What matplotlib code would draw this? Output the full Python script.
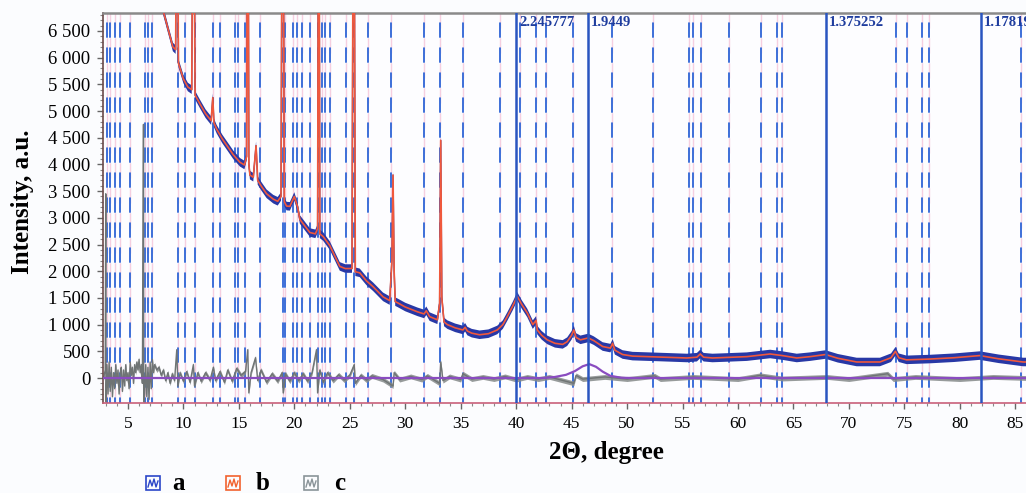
import matplotlib
matplotlib.use("Agg")
import matplotlib.pyplot as plt
from matplotlib.ticker import MultipleLocator, FuncFormatter
from matplotlib.patches import Rectangle
from matplotlib.lines import Line2D

plt.rcParams['lines.scale_dashes'] = False
plt.rcParams['font.family'] = ['Liberation Serif', 'DejaVu Serif']

# ---------------- data ----------------
# observed (a) / calculated (b) pattern, 2theta in degrees
theta_obs = [7.6, 8.2, 8.6, 9.05, 9.3, 9.38, 9.42, 9.46, 9.55, 10.0, 10.4, 10.75, 10.85, 10.9, 10.95,
             11.05, 11.5, 12.0, 12.5, 12.65, 12.75, 13.0, 13.5, 14.0, 14.5, 15.1, 15.5, 15.7, 15.8,
             15.9, 16.0, 16.3, 16.55, 16.7, 17.0, 17.5, 18.1, 18.5, 18.8, 18.95, 19.1, 19.3, 19.6,
             20.0, 20.3, 20.5, 21.4, 21.9, 22.1, 22.2, 22.3, 22.6, 23.2, 24.1, 24.6, 25.2, 25.35,
             25.5, 25.9, 26.5, 27.1, 28.0, 28.6, 28.8, 28.9, 29.0, 29.1, 29.3, 30.0, 31.1, 31.7,
             31.9, 32.2, 32.9, 33.1, 33.2, 33.3, 33.5, 33.8, 34.5, 35.2, 35.4, 35.6, 36.0, 36.7,
             37.5, 38.3, 38.8, 39.2, 39.7, 40.1, 40.5, 41.0, 41.5, 41.8, 41.9, 42.3, 42.8, 43.5,
             44.2, 44.6, 45.0, 45.2, 45.4, 45.8, 46.5, 47.0, 47.8, 48.5, 48.7, 48.9, 49.6, 50.5,
             52.7, 55.4, 56.3, 56.6, 56.9, 57.7, 59.0, 60.8, 62.9, 64.0, 65.3, 66.5, 67.9, 69.0,
             70.7, 72.8, 73.8, 74.2, 74.5, 75.2, 77.3, 79.5, 81.8, 83.5, 85.7, 86.2]
intensity_obs = [7400, 6860, 6550, 6200, 6150, 9000, 12000, 9000, 5900, 5600, 5450, 5400, 9000, 12000, 9000,
                 5300, 5130, 4950, 4820, 5250, 4780, 4660, 4480, 4330, 4180, 4040, 3990, 4150, 12000,
                 4000, 3800, 3760, 4350, 3700, 3600, 3450, 3350, 3310, 3400, 12000, 3300, 3220, 3215,
                 3400, 3200, 2970, 2725, 2700, 2800, 12000, 2700, 2650, 2480, 2090, 2050, 2050, 12000,
                 1990, 1970, 1820, 1710, 1520, 1450, 2200, 3800, 2000, 1430, 1410, 1330, 1240, 1200,
                 1260, 1150, 1090, 1400, 4450, 1500, 1050, 1000, 940, 900, 950, 880, 840, 810,
                 830, 900, 1000, 1150, 1350, 1530, 1380, 1220, 1000, 1080, 900, 800, 715, 650,
                 630, 680, 800, 900, 760, 715, 750, 700, 590, 560, 650, 520, 440, 410,
                 395, 375, 390, 450, 390, 375, 385, 400, 450, 420, 375, 400, 440, 370,
                 300, 300, 380, 500, 380, 340, 355, 380, 420, 360, 300, 300]
noise_obs = 80  # half-width of the noisy observed band, intensity units

# difference curve (c)
theta_diff = [2.8, 2.95, 3.0, 3.02, 3.1, 3.2, 3.3, 3.4, 3.5, 3.6, 3.7, 3.8, 3.9, 4.0, 4.1, 4.2, 4.3, 4.4,
              4.5, 4.6, 4.7, 4.8, 4.9, 5.0, 5.1, 5.2, 5.3, 5.4, 5.5, 5.6, 5.7, 5.8, 5.9, 6.0, 6.1, 6.2,
              6.3, 6.4, 6.42, 6.5, 6.6, 6.7, 6.8, 6.9, 7.0, 7.1, 7.2, 7.3, 7.4, 7.6, 7.8, 8.0, 8.2,
              8.4, 8.6, 8.8, 9.0, 9.2, 9.4, 9.5, 9.7, 10.0, 10.3, 10.6, 10.9, 11.0, 11.3, 11.6, 12.0,
              12.4, 12.7, 12.9, 13.3, 13.7, 14.0, 14.4, 14.8, 15.2, 15.6, 15.8, 15.9, 16.1, 16.5,
              16.7, 17.0, 17.5, 18.0, 18.5, 18.9, 19.0, 19.2, 19.6, 20.0, 20.4, 20.8, 21.2, 21.6,
              22.0, 22.1, 22.3, 22.6, 23.0, 23.5, 24.0, 24.5, 25.0, 25.4, 25.5, 26.0, 26.5, 27.0,
              28.0, 28.9, 29.0, 29.5, 30.5, 31.5, 32.0, 33.1, 33.2, 33.4, 34.0, 35.0, 35.2, 36.0,
              37.0, 38.0, 39.0, 40.0, 41.0, 42.0, 43.0, 45.2, 45.4, 46.0, 48.0, 50.0, 52.5, 53.0,
              56.0, 60.0, 62.0, 64.0, 68.0, 70.0, 73.5, 74.0, 76.0, 80.0, 83.0, 86.0]
intensity_diff = [0, 150, 3450, -450, 250, -300, 300, -250, 200, -350, 100, -200, 250, -100, 150, -300, 100, 200,
                  -250, 150, -150, 250, -50, 100, -200, 300, 50, 200, -100, 250, 100, 300, 150, 350, 100, 250,
                  -100, 4750, -450, -300, 250, -350, 200, -400, 300, -200, 350, 100, 250, 150, 200, 50, 150,
                  -50, 100, -100, 80, -50, 530, -150, 100, -60, 120, -80, 250, -150, 100, -60, 100,
                  -40, 200, -50, 120, -80, 150, -60, 180, 50, 120, 530, -280, 100, 380,
                  -50, 150, -80, 80, -60, 100, -280, 80, -60, 100, -50, 80, -60, 100,
                  530, -280, 150, -80, 100, -50, 60, -40, 50, 250, -100, 50, -40, 40,
                  -30, -150, 100, -30, 30, -30, 40, -100, 300, -50, 30, -30, 80, -20,
                  20, -20, 30, -30, 20, -20, 20, -100, 50, -20, 20, -20, 40, -20,
                  20, -20, 50, -10, 20, -20, 80, -20, 20, -20, 20, 0]
noise_diff = 45

# single-phase profile (purple)
theta_phase = [2.8, 42.5, 43.5, 44.5, 45.3, 46.0, 46.6, 47.2, 47.8, 48.5, 49.5, 50.5, 86.2]
intensity_phase = [0, 0, 20, 60, 130, 220, 260, 210, 120, 40, 5, 0, 0]

# reflection positions (dashed) and labelled reflections (solid)
dashed_positions = [3.11, 3.38, 3.83, 4.28, 5.18, 6.53, 6.80, 7.16, 9.51, 10.14, 11.04, 12.66, 13.30,
                    14.65, 14.92, 15.55, 16.90, 18.98, 19.16, 19.88, 20.24, 20.69, 21.41, 22.13,
                    22.49, 22.76, 23.21, 24.66, 25.38, 26.64, 28.71, 31.69, 33.13, 35.21, 38.54,
                    40.35, 41.79, 42.69, 45.13, 48.64, 52.34, 55.59, 55.95, 56.67, 59.19, 62.08,
                    63.52, 63.97, 74.25, 75.24, 76.60, 77.23, 85.52]
solid_positions = [40.0, 46.5, 67.95, 81.9]
solid_labels = ["2.245777", "1.9449", "1.375252", "1.178198"]

x_ticks = list(range(5, 90, 5))
y_ticks = list(range(0, 7000, 500))
legend_names = ["a", "b", "c"]
legend_colors = ["#2b46c8", "#f2622e", "#8a9499"]

# ---------------- figure ----------------
W, H = 1026, 493
fig = plt.figure(figsize=(W / 100, H / 100), dpi=100, facecolor="#fbfcfe")
ax = fig.add_axes([103 / W, 90 / H, 923 / W, 390 / H])
ax.set_facecolor("#fdfdff")
ax.set_xlim(2.75, 85.97)
ax.set_ylim(-468, 6836)

for xp in dashed_positions:
    ax.axvline(xp, color="#f6cfe0", lw=1.0, ls=(0, (11, 7)), zorder=1)
    ax.axvline(xp, color="#3d6fd8", lw=1.4, ls=(7, (11, 7)), zorder=1.1)

# difference (noisy grey band)
ax.fill_between(theta_diff, [v - noise_diff for v in intensity_diff],
                [v + noise_diff for v in intensity_diff], color="#858a8a", alpha=0.85, lw=0, zorder=2)
ax.plot(theta_diff, intensity_diff, color="#6f7474", lw=1.0, zorder=2.1)
ax.plot(theta_phase, intensity_phase, color="#8a4cc0", lw=1.6, zorder=3)

# observed (noisy blue band) + calculated line
ax.fill_between(theta_obs, [v - noise_obs for v in intensity_obs],
                [v + noise_obs for v in intensity_obs], color="#2838a6", lw=0, zorder=4)
ax.plot(theta_obs, intensity_obs, color="#2838a6", lw=1.0, zorder=4.1)
ax.plot(theta_obs, intensity_obs, color="#f0583c", lw=1.2, zorder=5)

for xp, lab in zip(solid_positions, solid_labels):
    ax.axvline(xp, color="#2a55c0", lw=1.8, zorder=6)
    ax.annotate(lab, xy=(xp, 1.0), xycoords=("data", "axes fraction"),
                xytext=(2, -2), textcoords="offset points", ha="left", va="top",
                fontsize=10.5, fontweight="bold", color="#1f3d9e", zorder=7,
                annotation_clip=False)

ax.set_xticks(x_ticks)
ax.xaxis.set_minor_locator(MultipleLocator(1))
ax.set_yticks(y_ticks)
ax.yaxis.set_minor_locator(MultipleLocator(100))
ax.yaxis.set_major_formatter(FuncFormatter(lambda v, p: f"{int(v):,}".replace(",", " ")))
ax.tick_params(axis="both", which="major", length=4, width=1, color="#666666",
               direction="out", pad=5)
ax.tick_params(axis="x", which="major", labelsize=12.5)
ax.tick_params(axis="y", which="major", labelsize=13.5)
ax.tick_params(axis="both", which="minor", length=2, width=0.8, color="#888888", direction="out")

ax.spines["right"].set_visible(False)
ax.spines["top"].set_color("#8a8a8a")
ax.spines["top"].set_linewidth(1.8)
ax.spines["left"].set_color("#6b4a4a")
ax.spines["left"].set_linewidth(1.2)
ax.spines["bottom"].set_color("#c9607a")
ax.spines["bottom"].set_linewidth(1.2)

fig.text(606 / W, 1 - 452 / H, "2Θ, degree", ha="center", va="center",
         fontsize=18, fontweight="bold")
fig.text(22 / W, 1 - 202 / H, "Intensity, a.u.", ha="center", va="center",
         fontsize=18, fontweight="bold", rotation=90)

# legend
icon_x = [146, 226, 304]
text_x = [172, 256, 334]
for ix, tx, name, col in zip(icon_x, text_x, legend_names, legend_colors):
    y0 = H - 490
    fig.add_artist(Rectangle((ix / W, y0 / H), 14 / W, 14 / H, transform=fig.transFigure,
                             fill=False, edgecolor=col, lw=1.2))
    zx = [ix + 2, ix + 4, ix + 6, ix + 8, ix + 10, ix + 12]
    zy = [y0 + 3, y0 + 10, y0 + 4, y0 + 11, y0 + 3, y0 + 9]
    fig.add_artist(Line2D([v / W for v in zx], [v / H for v in zy], transform=fig.transFigure,
                          color=col, lw=1.0))
    fig.text(tx / W, (H - 490) / H, name, ha="left", va="baseline", fontsize=18, fontweight="bold")

fig.savefig("out.png", dpi=100, facecolor=fig.get_facecolor())
